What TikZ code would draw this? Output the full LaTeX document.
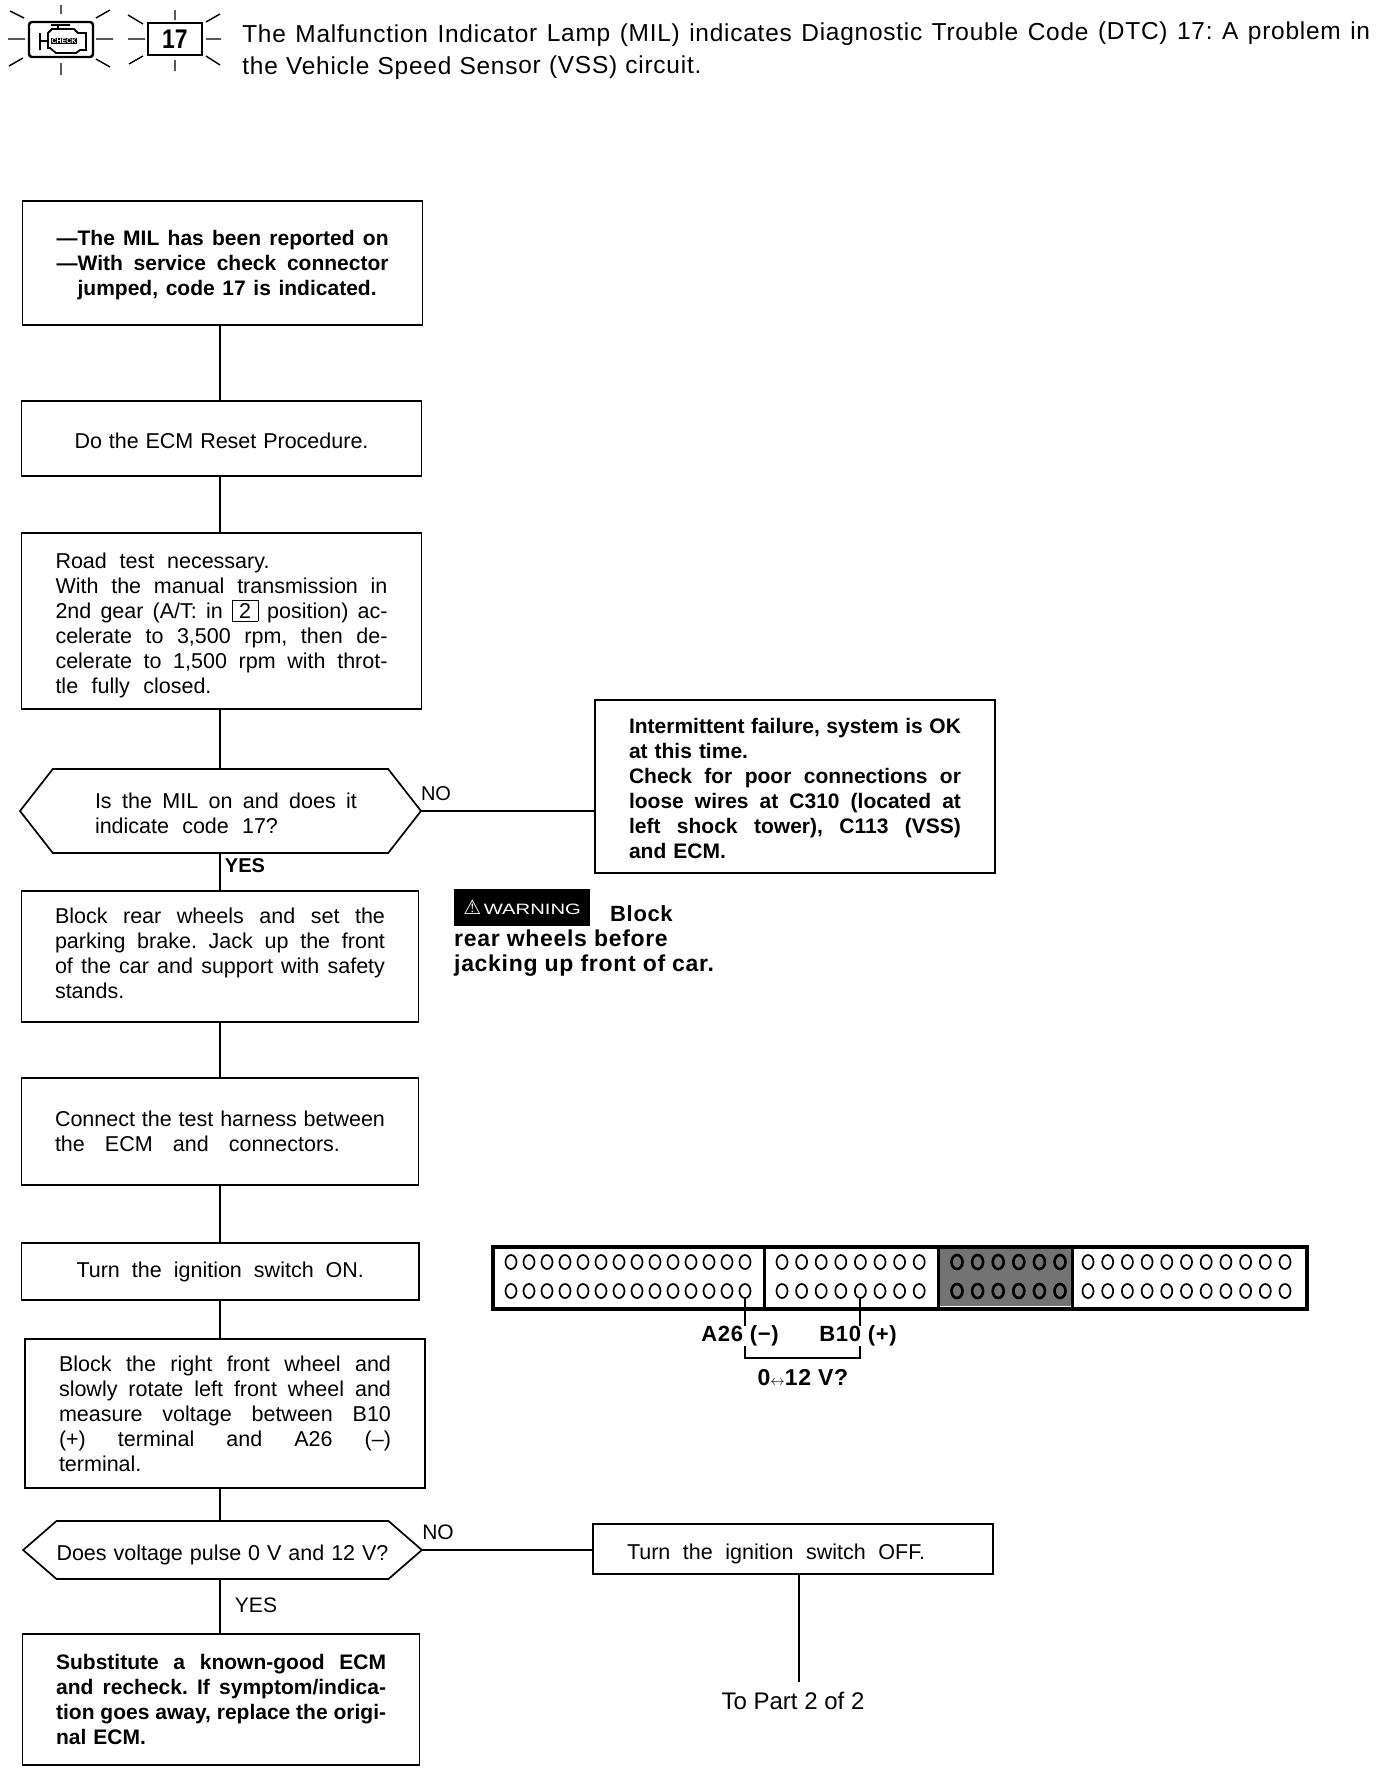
\documentclass[tikz,border=0pt]{standalone}
\usepackage{fontspec}
\setmainfont{Liberation Sans}
\newfontfamily\headfont[LetterSpace=3]{Liberation Sans}
\newfontfamily\symfont{DejaVu Sans}
\usepackage{tikz}
\usetikzlibrary{positioning,calc,shapes.geometric,shapes.symbols}
\newcommand{\fitline}[2][\hsize]{\leavevmode\hbox to #1{\frenchspacing\spaceskip=.28em plus 1fil minus .05em\relax #2}}
\newcommand{\jline}[1]{\fitline{#1}\\}
\tikzset{
  flowbox/.style={draw, line width=1.7pt, anchor=north west, outer sep=0pt, inner xsep=34pt, inner ysep=0pt,
    text width=332pt, align=left, font=\fontsize{21.5}{25}\selectfont},
  boldbox/.style={flowbox, font=\fontsize{21}{25}\selectfont\bfseries},
  hexbox/.style={draw, line width=1.7pt, signal, signal to=west and east, inner sep=0pt, outer sep=0pt,
    align=left, font=\fontsize{21.5}{25}\selectfont},
  link/.style={line width=1.4pt},
  ray/.style={line width=1.4pt},
  pin/.style={draw, ellipse, minimum width=11pt, minimum height=14pt, inner sep=0pt},
  lab/.style={inner sep=0pt, font=\fontsize{20}{24}\selectfont\bfseries},
  tag/.style={inner sep=0pt, font=\fontsize{21}{24}\selectfont},
  spaced/.style={inner sep=0pt, font=\fontsize{22}{25}\headfont\bfseries},
}

\begin{document}
\begin{tikzpicture}[x=1pt,y=-1pt]
    \useasboundingbox (0,0) rectangle (1376,1772);
    % header icons
    \draw[line width=2.4pt, rounded corners=3pt] (29,22) rectangle (93,57);
    \draw[line width=1.8pt] (40,33) -- (40,50) (40,41) -- (48,41)
      (51,25) -- (70,25) (58,25) -- (58,29)
      (48,33) -- (52,29) -- (74,29) -- (78,33) -- (86,33) -- (86,50) -- (80,50) -- (76,53) -- (56,53) -- (50,48) -- (48,48) -- cycle;
    \node[fill=black, text=white, inner sep=1pt, font=\fontsize{7}{7}\selectfont\bfseries] (check) at (64,41) {CHECK};
    \node[draw, line width=2.4pt, minimum width=54pt, minimum height=32pt, inner sep=0pt,
      font=\fontsize{27}{27}\selectfont\bfseries] (code) at (175,39) {\scalebox{0.85}[1]{17}};
    \draw[ray] (61,5) -- (61,14) (61,63) -- (61,75) (8,39) -- (25,39) (96,39) -- (113,39)
      (10,11) -- (24,18) (96,18) -- (110,10) (9,66) -- (23,58) (96,59) -- (110,67);
    \draw[ray] (175,10) -- (175,20) (175,60) -- (175,71) (128,39) -- (145,39) (206,39) -- (221,39)
      (128,15) -- (143,24) (206,22) -- (220,14) (129,64) -- (143,56) (206,56) -- (220,65);
    \node[anchor=north west, inner sep=0pt, rotate=0.2, text width=1128pt, align=left,
      font=\fontsize{24.5}{32}\headfont] (title) at (242,25) {%
      \jline{The Malfunction Indicator Lamp (MIL) indicates Diagnostic Trouble Code (DTC) 17: A problem in}
      the Vehicle Speed Sensor (VSS) circuit.};

    % left column; the \rule in a first or last line moves the text within its box
    \node[boldbox, minimum height=124pt] (mil) at (22.6,201) {%
      \jline{\rule{0pt}{20pt}---The MIL has been reported on}
      \jline{---With service check connector}
      \hspace*{21pt}\fitline[299pt]{jumped, code 17 is indicated.}};
    \node[flowbox, minimum height=75pt, inner xsep=53pt, text width=294pt] (reset) at (21.5,401) {\fitline{\rule{0pt}{20.5pt}Do the ECM Reset Procedure.}};
    \node[flowbox, minimum height=176pt] (roadtest) at (21.5,533) {%
      \fitline[214pt]{\rule{0pt}{24pt}Road test necessary.}\\
      \jline{With the manual transmission in}
      \jline{2nd gear (A/T: in \smash{\fbox{\,2\,}} position) ac-}
      \jline{celerate to 3,500 rpm, then de-}
      \jline{celerate to 1,500 rpm with throt-}
      \fitline[156pt]{tle fully closed.}};
    \node[hexbox, minimum width=401pt, minimum height=84pt, signal pointer angle=104, text width=273pt] (milcheck) at (220.5,811)
      {\hspace*{11pt}\fitline[262pt]{\rule{0pt}{20pt}Is the MIL on and does it}\\\hspace*{11pt}\fitline[183pt]{indicate code 17?}};
    \node[flowbox, minimum height=131pt, inner xsep=33.5pt, text width=330pt] (blockwheels) at (21.5,891) {%
      \jline{Block rear wheels and set the}
      \jline{parking brake. Jack up the front}
      \jline{of the car and support with safety}
      stands.\rule[-7pt]{0pt}{7pt}};
    \node[flowbox, minimum height=107pt, inner xsep=33.5pt, text width=330pt] (harness) at (21.5,1078) {%
      \jline{Connect the test harness between}
      \fitline[285pt]{the ECM and connectors.}};
    \node[flowbox, minimum height=57pt, inner xsep=55pt, text width=287.5pt] (ignon) at (21.5,1243) {\fitline{Turn the ignition switch ON.}};
    \node[flowbox, minimum height=149pt] (measure) at (25,1339) {%
      \jline{Block the right front wheel and}
      \jline{slowly rotate left front wheel and}
      \jline{measure voltage between B10}
      \jline{(+) terminal and A26 (--)}
      terminal.};
    \node[hexbox, minimum width=395pt, minimum height=58pt, signal pointer angle=82, text width=332pt] (pulsecheck) at (222.5,1550)
      {\fitline{\rule{0pt}{25pt}Does voltage pulse 0 V and 12 V?}};
    \node[boldbox, minimum height=131pt, inner xsep=33.5pt, text width=330pt] (ecm) at (22.6,1634) {%
      \jline{Substitute a known-good ECM}
      \jline{and recheck. If symptom/indica-}
      \jline{tion goes away, replace the origi-}
      nal ECM.};

    % right column
    \node[boldbox, minimum height=173pt] (intermittent) at (595,700) {%
      \jline{\rule{0pt}{20pt}Intermittent failure, system is OK}
      at this time.\\
      \jline{Check for poor connections or}
      \jline{loose wires at C310 (located at}
      \jline{left shock tower), C113 (VSS)}
      and ECM.};
    \node[flowbox, minimum height=50pt] (ignoff) at (593,1524) {\fitline[298pt]{\rule{0pt}{25pt}Turn the ignition switch OFF.}};
    \node[tag, font=\fontsize{24}{24}\selectfont] (topart) at (793,1701) {To Part 2 of 2};
    \coordinate (toend) at (799,1682);

    % warning
    \node[fill=black, text=white, anchor=north west, minimum width=136pt, minimum height=37pt, inner sep=0pt,
      font=\fontsize{15}{15}\selectfont] (warn) at (454,889) {{\fontsize{20}{20}\symfont ⚠}\,\scalebox{1.35}[1]{WARNING}};
    \node[spaced, anchor=west] (warnblock) at (610,914) {Block};
    \node[spaced, anchor=north west, align=left, font=\fontsize{23}{25}\headfont\bfseries] (warntext) at (454,930)
      {rear wheels before\\jacking up front of car.};

    % connectors
    \coordinate (spine) at (220,0);
    \foreach \a/\b in {mil/reset,reset/roadtest,roadtest/milcheck,milcheck/blockwheels,blockwheels/harness,harness/ignon,ignon/measure,measure/pulsecheck,pulsecheck/ecm}
      \draw[link] (\a.south -| spine) -- (\b.north -| spine);
    \draw[link] (milcheck.east) -- (intermittent.west |- milcheck.east);
    \draw[link] (pulsecheck.east) -- (ignoff.west |- pulsecheck.east);
    \draw[link] (ignoff.south -| toend) -- (toend);
    \node[lab, font=\fontsize{20}{24}\selectfont] (nofirst) at (436,794) {NO};
    \node[lab] (yesfirst) at (245,866) {YES};
    \node[tag] (nosecond) at (438,1532) {NO};
    \node[tag] (yessecond) at (256,1605) {YES};

    % connector panel
    \fill[black!55] (938,1247) rectangle (1072,1306);
    \node[draw, line width=3.5pt, anchor=north west, minimum width=814pt, minimum height=62pt, inner sep=0pt] (panel) at (491,1245) {};
    \draw[line width=3pt] (764,1245) -- (764,1307) (938,1245) -- (938,1307) (1072,1245) -- (1072,1307);
    \foreach \g/\x/\p/\n/\w in {A/511/18/14/1.7,B/782/19.6/8/1.7,C/957/20.6/6/2.6,D/1088/19.7/11/1.7}
      \foreach \i in {1,...,\n} {
        \node[pin, line width=\w pt] (pin\g\i top) at ({\x+(\i-1)*\p},1262) {};
        \node[pin, line width=\w pt] (pin\g\i) at ({\x+(\i-1)*\p},1291) {};
      }
    \node[spaced] (alab) at (740,1336) {A26 (−)};
    \node[spaced] (blab) at (858,1336) {B10 (+)};
    \node[spaced, font=\fontsize{23}{25}\headfont\bfseries] (volt) at (803,1378) {0{\fontsize{15}{15}\selectfont$\leftrightarrow$}12 V?};
    \draw[line width=2pt] (pinA14) -- (pinA14 |- alab.north);
    \draw[line width=2pt] (pinB5) -- (pinB5 |- blab.north);
    \draw[line width=2pt] (pinA14 |- alab.south) -- ++(0,12) -| (pinB5 |- blab.south);
  \end{tikzpicture}
\end{document}
